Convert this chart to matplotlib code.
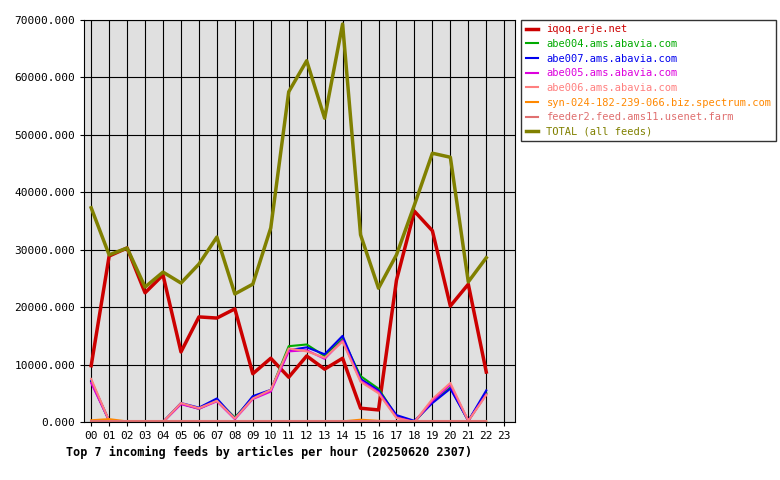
import matplotlib
matplotlib.use("Agg")
import matplotlib.pyplot as plt

hours = list(range(23))
xlabels = ["%02d" % h for h in range(24)]
names = ["iqoq.erje.net", "abe004.ams.abavia.com", "abe007.ams.abavia.com",
         "abe005.ams.abavia.com", "abe006.ams.abavia.com",
         "syn-024-182-239-066.biz.spectrum.com", "feeder2.feed.ams11.usenet.farm",
         "TOTAL (all feeds)"]
colors = ["#cc0000", "#00aa00", "#0000ee", "#dd00dd", "#ff7f7f", "#ff8800", "#e07070", "#808000"]

iqoq = [9800, 28900, 30300, 22500, 25600, 12200, 18300, 18100, 19700, 8400, 11100, 7800, 11500,
        9200, 11100, 2400, 2100, 24700, 36700, 33300, 20200, 24000, 8700]
abe004 = [7000, 200, 0, 0, 0, 3200, 2300, 3800, 800, 4200, 5500, 13200, 13500, 11500, 14500,
          8000, 5800, 1000, 0, 3500, 6000, 200, 5000]
abe007 = [7200, 200, 0, 0, 0, 3300, 2500, 4100, 600, 4500, 5600, 12500, 13000, 11800, 15000,
          7500, 5500, 1200, 200, 3300, 5800, 200, 5500]
abe005 = [6800, 200, 0, 0, 0, 3100, 2300, 3600, 500, 4000, 5300, 12300, 12500, 11000, 14200,
          7200, 5200, 800, 0, 3700, 6500, 200, 4800]
abe006 = [7500, 200, 0, 0, 0, 3300, 2400, 3700, 600, 4100, 5600, 12800, 12300, 11200, 14000,
          7000, 5000, 700, 0, 4000, 6800, 200, 4700]
syn = [300, 500, 100, 100, 100, 100, 100, 100, 100, 100, 100, 100, 100, 100, 100, 400, 200, 100,
       100, 100, 100, 100, 100]
feeder2 = [100] * 23
total = [37300, 29100, 30300, 23500, 26100, 24200, 27500, 32200, 22300, 24000, 33800, 57500,
         62900, 52900, 69300, 32600, 23300, 29100, 37800, 46800, 46100, 24400, 28600]
series = [iqoq, abe004, abe007, abe005, abe006, syn, feeder2, total]

plt.rcParams["font.family"] = "DejaVu Sans Mono"
fig = plt.figure(figsize=(7.8, 4.8), dpi=100)
ax = fig.add_axes([84/780, 58/480, 431/780, 402/480])
ax.set_facecolor("#e0e0e0")
widths = [2.5, 1.5, 1.5, 1.5, 1.5, 1.5, 1.5, 2.5]
for s, n, c, w in zip(series, names, colors, widths):
    ax.plot(hours, s, color=c, lw=w, label=n)
ax.set_xlim(-0.4, 23.6)
ax.set_ylim(0, 70000)
ax.set_xticks(range(24))
ax.set_xticklabels(xlabels, fontsize=8)
ax.set_yticks(range(0, 70001, 10000))
ax.set_yticklabels(["%d.000" % v for v in range(0, 70001, 10000)], fontsize=8)
ax.grid(True, color="black", lw=0.8)
ax.set_axisbelow(True)
ax.tick_params(length=3)
leg = ax.legend(loc="upper left", bbox_to_anchor=(1.015, 1.0), fontsize=7.5, frameon=True,
                fancybox=False, edgecolor="black", handlelength=1.2, borderaxespad=0,
                labelspacing=0.45)
for t, c in zip(leg.get_texts(), colors):
    t.set_color(c)
fig.text(66/780, 1 - 452/480, "Top 7 incoming feeds by articles per hour (20250620 2307)",
         fontsize=8.5, fontweight="bold", va="center")
fig.savefig("out.png")
